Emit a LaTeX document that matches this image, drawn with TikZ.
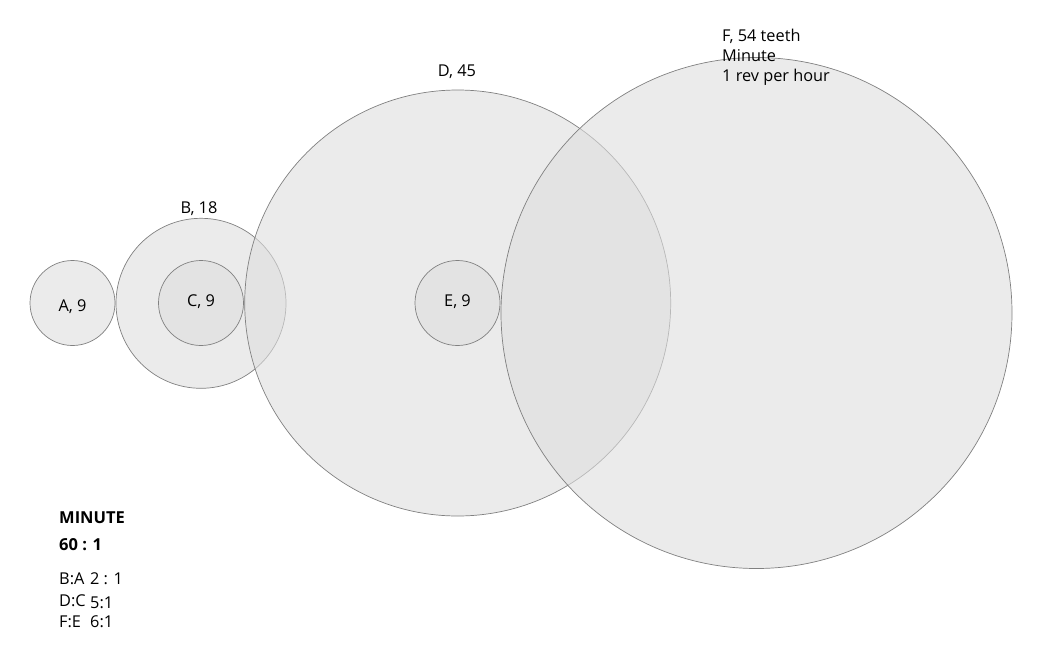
\documentclass[tikz,border=0pt]{standalone}
\usepackage{fontspec}
\setmainfont{Open Sans}
\usepackage{tikz}
\usetikzlibrary{positioning}

\tikzset{
    gear/.style={circle, draw=black!50, line width=0.7pt, fill=black!13, fill opacity=0.6,
        draw opacity=1, inner sep=0pt, minimum size=#1},
    txt/.style={inner sep=0pt, font=\fontsize{16.3}{20}\selectfont, text=black},
    head/.style={inner sep=0pt, font=\fontsize{16.5}{20}\selectfont\bfseries, text=black}
}

\begin{document}
\begin{tikzpicture}[x=1pt, y=-1pt]
\useasboundingbox (0, 0) rectangle (1058, 662);

% ── Gears ────────────────────────────────────────────────────────
\node[gear=85pt]  (gearA) at (72.5, 303) {};
\node[gear=170pt] (gearB) at (201, 303.3) {};
\node[gear=85pt]  (gearC) at (201, 303) {};
\node[gear=426pt] (gearD) at (457.7, 303) {};
\node[gear=85pt]  (gearE) at (457.5, 303) {};
\node[gear=511pt] (gearF) at (756.5, 313) {};

% ── Gear labels ──────────────────────────────────────────────────
\node[txt, anchor=base] (labA) at (72.5, 311.7) {A, 9};
\node[txt, anchor=base] (labC) at (201, 306.7) {C, 9};
\node[txt, anchor=base] (labE) at (457.5, 306.7) {E, 9};
\node[txt, anchor=base] (labB) at (199, 213.3) {B, 18};
\node[txt, anchor=base] (labD) at (457, 76.7) {D, 45};
\node[txt, anchor=base west] (labF1) at (722, 41) {F, 54 teeth};
\node[txt, anchor=base west] (labF2) at (722, 61) {Minute};
\node[txt, anchor=base west] (labF3) at (722, 81.7) {1 rev per hour};

% ── Ratios ───────────────────────────────────────────────────────
\node[head, anchor=base west] (title) at (59, 523.3) {MINUTE};
\node[head, anchor=base west] (total) at (59, 550) {60 : 1};
\node[txt, anchor=base west] (ratBA) at (59, 584.3) {B:A};
\node[txt, anchor=base west] (valBA) at (90, 584.3) {2 : 1};
\node[txt, anchor=base west] (ratDC) at (59, 606) {D:C};
\node[txt, anchor=base west] (valDC) at (90, 608.3) {5:1};
\node[txt, anchor=base west] (ratFE) at (59, 627.7) {F:E};
\node[txt, anchor=base west] (valFE) at (90, 627.7) {6:1};

\end{tikzpicture}
\end{document}
